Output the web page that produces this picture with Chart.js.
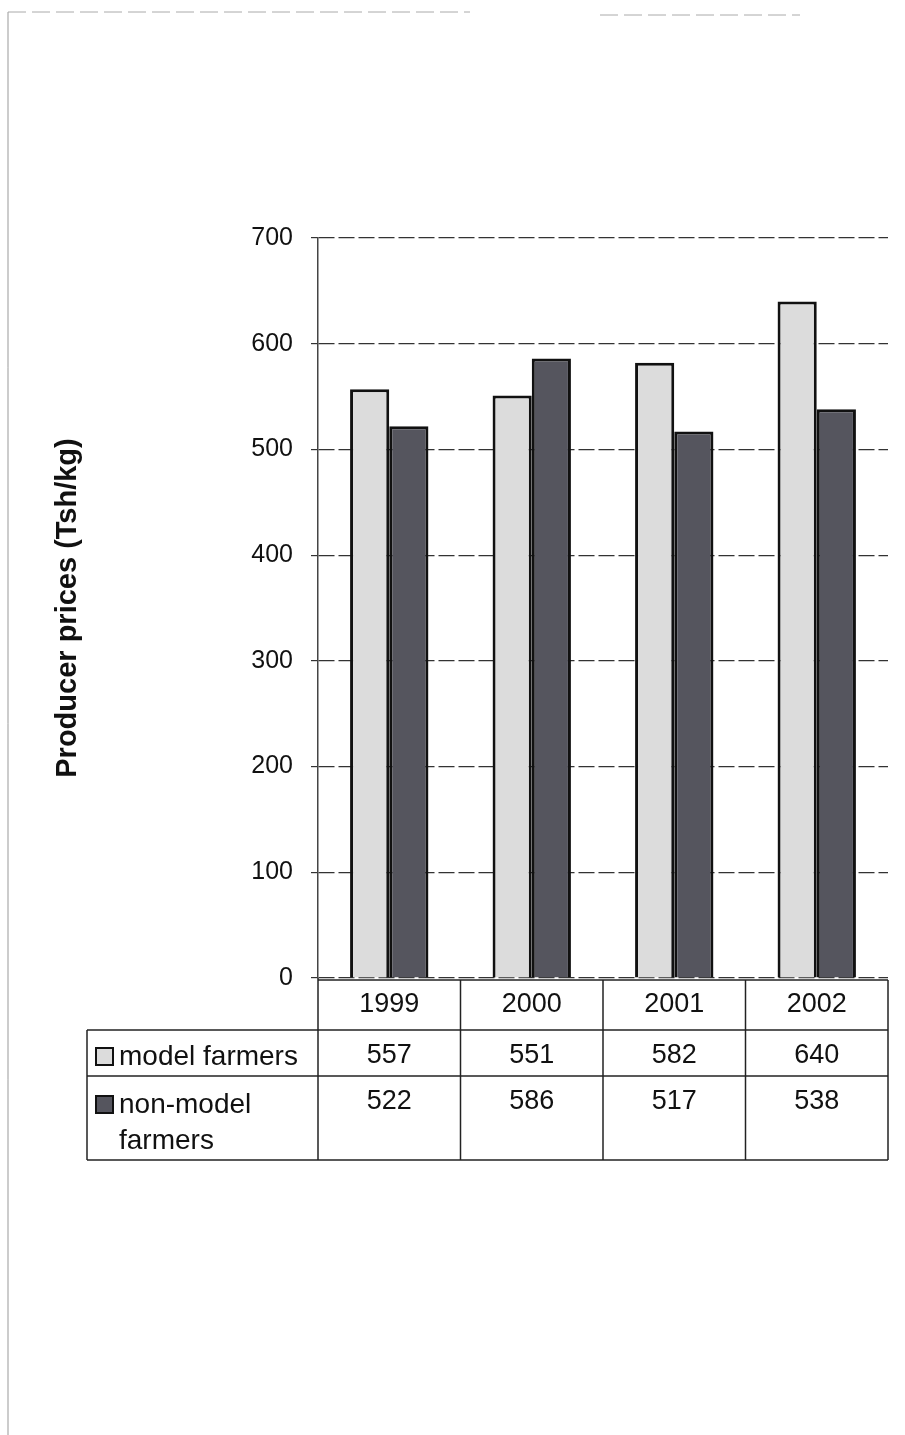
<!DOCTYPE html>
<html>
<head>
<title>Producer prices</title>
<style>
  html, body { margin: 0; padding: 0; background: #fff; }
  #wrap { width: 905px; height: 1435px; }
</style>
</head>
<body>
<div id="wrap"><canvas id="priceChart"></canvas></div>
<script src="https://cdn.jsdelivr.net/npm/chart.js"></script>
<script>
const years = ['1999', '2000', '2001', '2002'];
const modelFarmers = [557, 551, 582, 640];
const nonModelFarmers = [522, 586, 517, 538];
const yTicks = [0, 100, 200, 300, 400, 500, 600, 700];

const font = 'Liberation Sans, Arial, sans-serif';

// faint page edge from the scanned original
const pageEdge = {
  id: 'pageEdge',
  beforeDraw(chart) {
    const ctx = chart.ctx;
    ctx.save();
    ctx.strokeStyle = '#999';
    ctx.lineWidth = 1;
    ctx.beginPath(); ctx.moveTo(8, 12); ctx.lineTo(8, 1435); ctx.stroke();
    ctx.setLineDash([18, 6]);
    ctx.strokeStyle = '#aaa';
    ctx.beginPath(); ctx.moveTo(8, 12); ctx.lineTo(470, 12); ctx.stroke();
    ctx.beginPath(); ctx.moveTo(600, 15); ctx.lineTo(800, 15); ctx.stroke();
    ctx.restore();
  }
};

// draws the data table under the plot (years + values + legend keys)
const dataTable = {
  id: 'dataTable',
  afterDraw(chart) {
    const ctx = chart.ctx;
    const x = chart.scales.x;
    const area = chart.chartArea;
    const half = (x.getPixelForValue(1) - x.getPixelForValue(0)) / 2;
    const top = area.bottom + 2, r1 = 1030, r2 = 1076, bot = 1160, legLeft = 87;
    ctx.save();
    ctx.strokeStyle = '#222';
    ctx.lineWidth = 1.5;
    const line = (x1, y1, x2, y2) => { ctx.beginPath(); ctx.moveTo(x1, y1); ctx.lineTo(x2, y2); ctx.stroke(); };
    line(area.left, top, area.right, top);
    line(legLeft, r1, area.right, r1);
    line(legLeft, r2, area.right, r2);
    line(legLeft, bot, area.right, bot);
    line(legLeft, r1, legLeft, bot);
    line(area.left, area.bottom, area.left, bot);
    years.forEach((y, i) => {
      const right = x.getPixelForValue(i) + half;
      line(right, top, right, bot);
    });
    ctx.fillStyle = '#111';
    ctx.font = '27px ' + font;
    ctx.textAlign = 'center';
    ctx.textBaseline = 'middle';
    years.forEach((y, i) => {
      const cx = x.getPixelForValue(i);
      ctx.fillText(y, cx, 1005);
      ctx.fillText(String(modelFarmers[i]), cx, 1056);
      ctx.fillText(String(nonModelFarmers[i]), cx, 1102);
    });
    ctx.textAlign = 'left';
    const ds = chart.data.datasets;
    const key = (yc, color) => {
      ctx.fillStyle = color;
      ctx.fillRect(96, yc - 8, 17, 17);
      ctx.strokeStyle = '#111';
      ctx.lineWidth = 2;
      ctx.strokeRect(96, yc - 8, 17, 17);
    };
    key(1056, ds[0].backgroundColor);
    key(1104, ds[1].backgroundColor);
    ctx.fillStyle = '#111';
    ctx.font = '28px ' + font;
    ctx.fillText('model farmers', 119, 1057);
    ctx.fillText('non-model', 119, 1105);
    ctx.fillText('farmers', 119, 1141);
    ctx.restore();
  }
};

new Chart(document.getElementById('priceChart'), {
  type: 'bar',
  data: {
    labels: years,
    datasets: [{
      label: 'model farmers',
      data: modelFarmers,
      backgroundColor: '#dcdcdc',
      borderColor: '#111',
      borderWidth: 3,
      categoryPercentage: 0.55,
      barPercentage: 1
    }, {
      label: 'non-model farmers',
      data: nonModelFarmers,
      backgroundColor: '#55555e',
      borderColor: '#111',
      borderWidth: 3,
      categoryPercentage: 0.55,
      barPercentage: 1
    }]
  },
  options: {
    responsive: true,
    maintainAspectRatio: false,
    animation: false,
    layout: { padding: { left: 40, top: 238, right: 17, bottom: 457 } },
    plugins: { legend: { display: false }, tooltip: { enabled: false } },
    scales: {
      x: {
        ticks: { display: false },
        grid: { display: false },
        border: { display: false },
        afterFit(s) { s.height = 0; }
      },
      y: {
        min: 0,
        max: 700,
        afterBuildTicks(s) { s.ticks = yTicks.map(v => ({ value: v })); },
        ticks: { font: { family: font, size: 25 }, color: '#111', padding: 18 },
        grid: { color: '#333', lineWidth: 1.2, tickLength: 7 },
        border: { display: true, color: '#444', width: 1.5, dash: [16, 4] },
        title: {
          display: true,
          text: 'Producer prices (Tsh/kg)',
          font: { family: font, size: 29, weight: 'bold' },
          color: '#111',
          padding: { top: 11, bottom: 0 }
        },
        afterFit(s) { s.width = 278; }
      }
    }
  },
  plugins: [pageEdge, dataTable]
});
</script>
</body>
</html>
